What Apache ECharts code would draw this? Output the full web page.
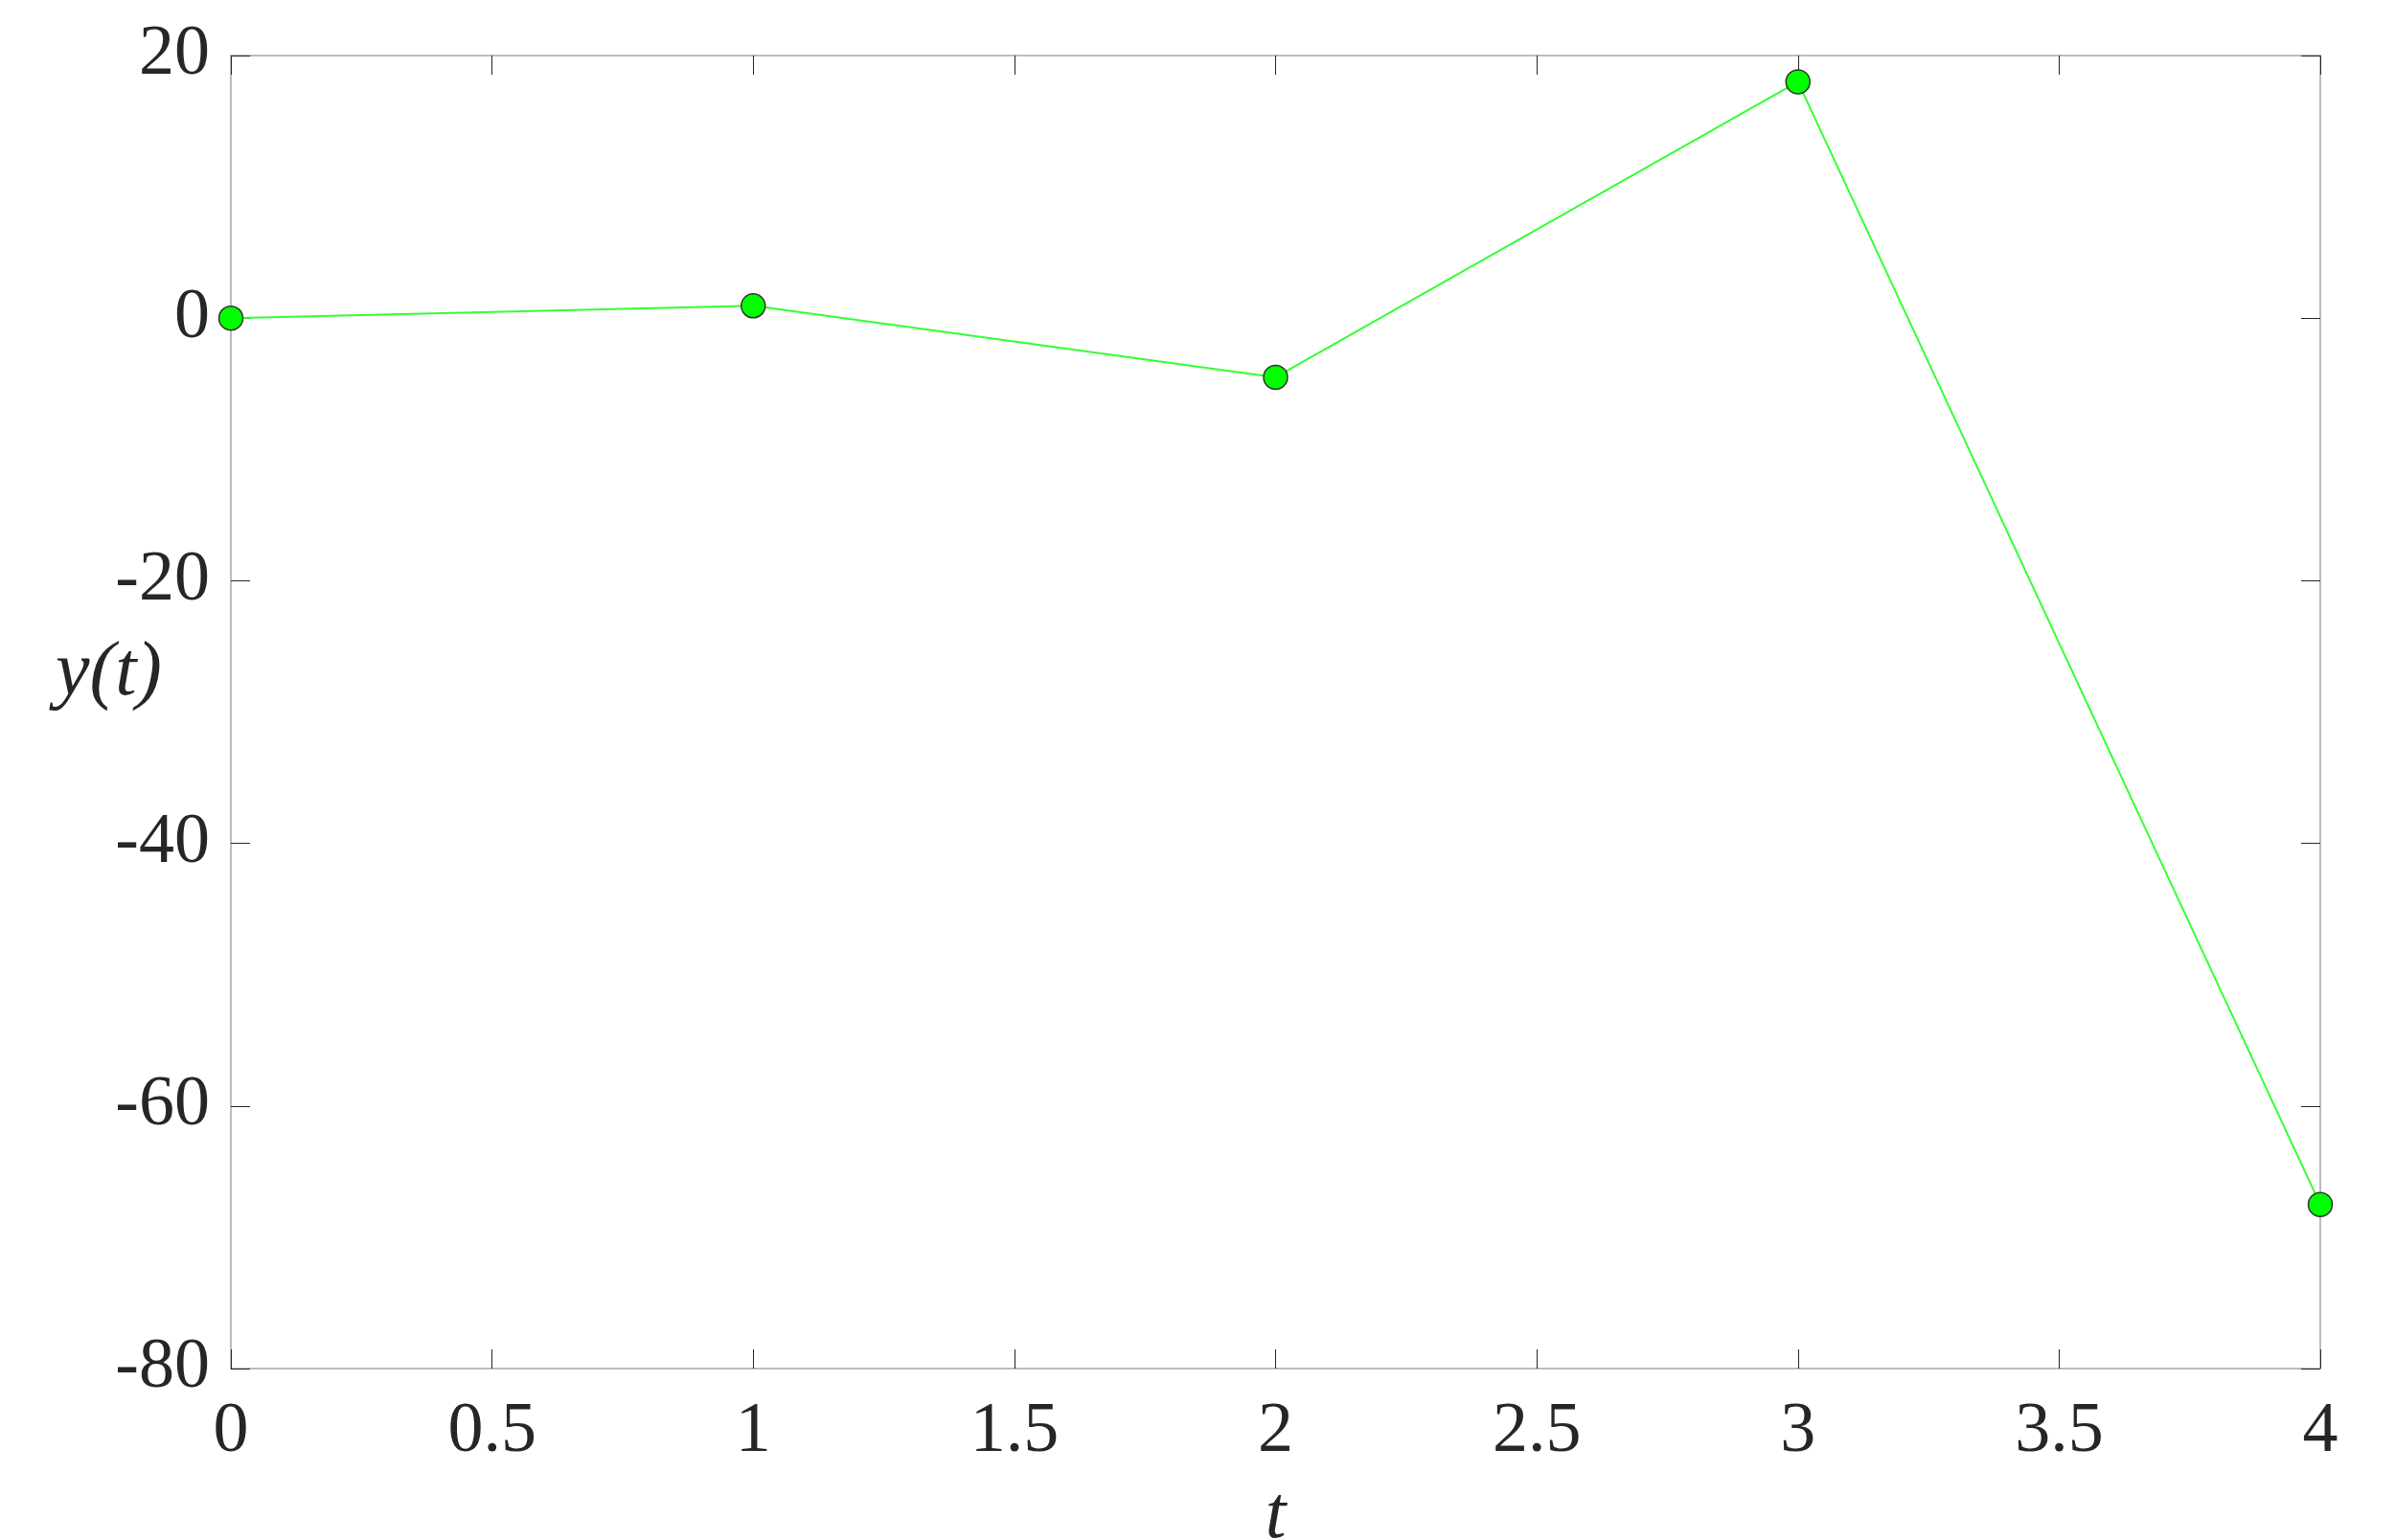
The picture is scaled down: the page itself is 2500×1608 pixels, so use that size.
<!DOCTYPE html>
<html>
<head>
<meta charset="utf-8">
<script src="https://cdn.jsdelivr.net/npm/echarts@6/dist/echarts.min.js"></script>
<style>
  html, body { margin: 0; padding: 0; background: #fff; }
  #main { width: 2500px; height: 1608px; }
</style>
</head>
<body>
<div id="main"></div>
<script>
var tValues = [0, 1, 2, 3, 4];
var yValues = [0.0, 0.94, -4.5, 18.0, -67.5];

var fontFam = "'Liberation Serif', 'DejaVu Serif', serif";
var textColor = "#262626";
var boxColor = "#a6a6a6";
var tickColor = "#262626";

var chartDom = document.getElementById("main");
var myChart = echarts.init(chartDom);
var option;

var points = tValues.map(function (t, i) {
  return [t, yValues[i]];
});

function boxAxis(extra) {
  return Object.assign({
    type: "value",
    axisLine: { show: true, onZero: false, lineStyle: { color: boxColor, width: 1.5 } },
    axisTick: { show: true, inside: true, length: 20, lineStyle: { color: tickColor, width: 1 } },
    splitLine: { show: false }
  }, extra);
}

option = {
  backgroundColor: "#fff",
  animation: false,
  grid: { left: 241, right: 78, top: 58, bottom: 179, containLabel: false, outerBoundsMode: "none" },
  xAxis: [
    boxAxis({
      position: "bottom",
      min: 0, max: 4, interval: 0.5,
      name: "t",
      nameLocation: "middle",
      nameGap: 116,
      nameMoveOverlap: false,
      nameTextStyle: { fontFamily: fontFam, fontStyle: "italic", fontSize: 78, color: textColor },
      axisLabel: { margin: 30, fontFamily: fontFam, fontSize: 74, color: textColor }
    }),
    boxAxis({
      position: "top",
      min: 0, max: 4, interval: 0.5,
      axisLabel: { show: false }
    })
  ],
  yAxis: [
    boxAxis({
      position: "left",
      min: -80, max: 20, interval: 20,
      name: "y(t)",
      nameLocation: "middle",
      nameRotate: 0,
      nameGap: 72,
      nameMoveOverlap: false,
      nameTextStyle: {
        fontFamily: fontFam, fontStyle: "italic", fontSize: 80, color: textColor,
        verticalAlign: "bottom"
      },
      axisLabel: { margin: 22, fontFamily: fontFam, fontSize: 74, color: textColor }
    }),
    boxAxis({
      position: "right",
      min: -80, max: 20, interval: 20,
      axisLabel: { show: false }
    })
  ],
  series: [
    {
      type: "line",
      data: points,
      symbol: "circle",
      symbolSize: 25,
      lineStyle: { color: "#33ff33", width: 2 },
      itemStyle: { color: "#00ff00", borderColor: "#333", borderWidth: 1.5 },
      z: 5
    }
  ]
};

option && myChart.setOption(option, true);
</script>
</body>
</html>
